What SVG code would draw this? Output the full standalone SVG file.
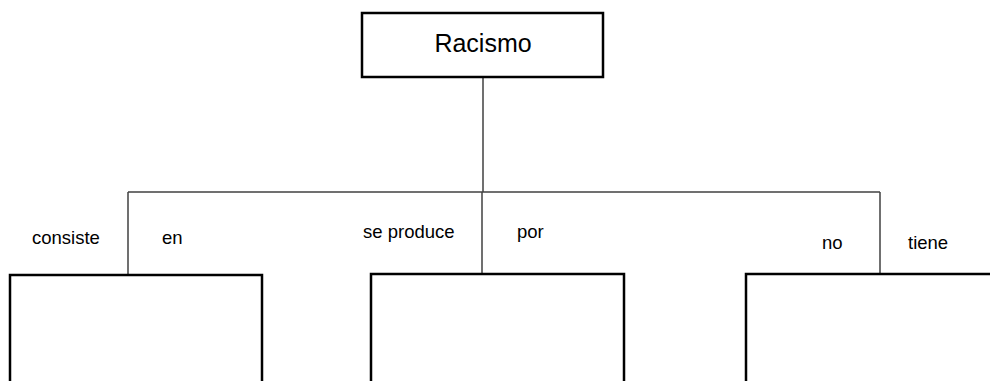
<svg xmlns="http://www.w3.org/2000/svg" width="990" height="381" viewBox="0 0 990 381">
<style>
.box{fill:#fff;stroke:#000;stroke-width:2.5}
.line{fill:none;stroke:#404040;stroke-width:1.5}
.lbl{font-family:"Liberation Sans",Arial,sans-serif;font-size:18.5px;fill:#000}
.title{font-family:"Liberation Sans",Arial,sans-serif;font-size:25px;fill:#000;text-anchor:middle}
</style>
<rect width="990" height="381" fill="#fff"/>
<g id="connectors">
<line class="line" x1="483" y1="77" x2="483" y2="192"/>
<line class="line" x1="128" y1="192" x2="880" y2="192"/>
<line class="line" x1="128" y1="192" x2="128" y2="274"/>
<line class="line" x1="482" y1="192" x2="482" y2="274"/>
<line class="line" x1="880" y1="192" x2="880" y2="274"/>
</g>
<g id="labels">
<text class="lbl" x="32" y="244">consiste</text>
<text class="lbl" x="162" y="244">en</text>
<text class="lbl" x="363" y="238">se produce</text>
<text class="lbl" x="517" y="238">por</text>
<text class="lbl" x="822" y="249">no</text>
<text class="lbl" x="908" y="249">tiene</text>
</g>
<g id="racismo">
<rect class="box" x="362" y="13" width="241" height="64"/>
<text class="title" x="483" y="52">Racismo</text>
</g>
<g id="box-left">
<rect class="box" x="10" y="275" width="252" height="120"/>
</g>
<g id="box-middle">
<rect class="box" x="371" y="274" width="253" height="120"/>
</g>
<g id="box-right">
<rect class="box" x="746" y="274" width="260" height="120"/>
</g>
</svg>
